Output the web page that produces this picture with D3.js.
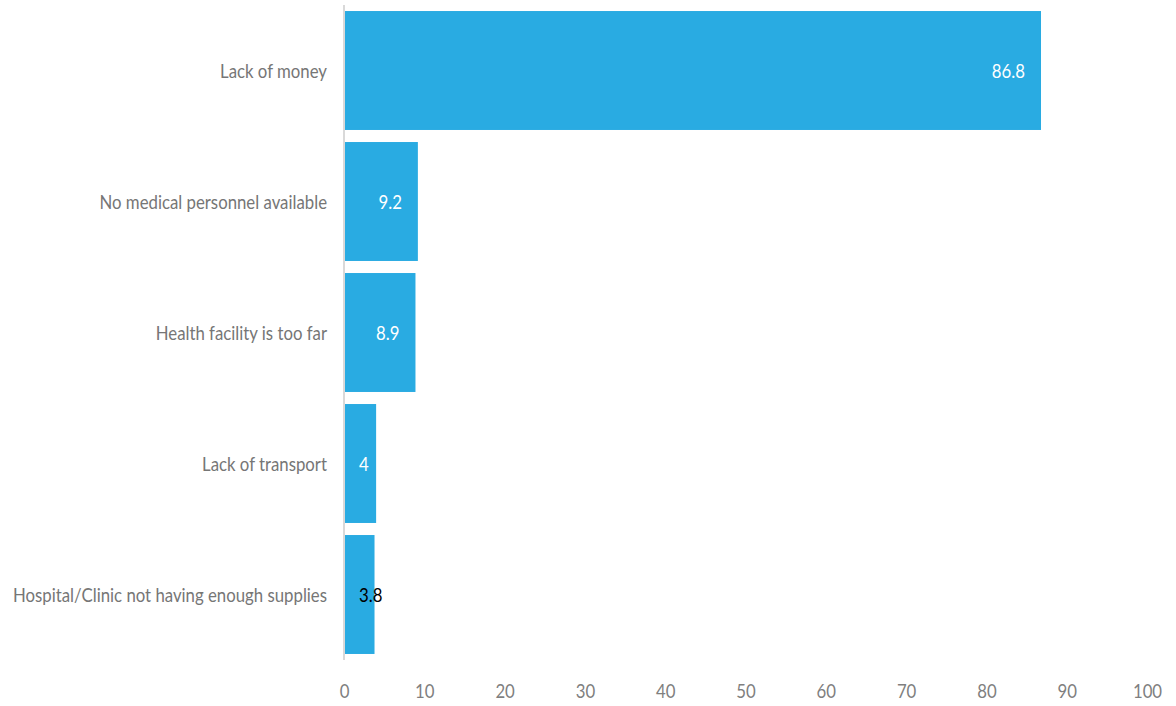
<!DOCTYPE html>
<html><head><meta charset="utf-8">
<script src="https://cdn.jsdelivr.net/npm/d3@7"></script>
<style>body{margin:0;background:#fff}svg{display:block}text{font-family:Lato,"Open Sans",sans-serif}</style>
</head><body><svg id="c" width="1176" height="706"></svg>
<script>
const categories = ["Lack of money","No medical personnel available","Health facility is too far","Lack of transport","Hospital/Clinic not having enough supplies"];
const values = [86.8, 9.2, 8.9, 4, 3.8];
const xTicks = [0,10,20,30,40,50,60,70,80,90,100];

const svg = d3.select("#c");
const x = d3.scaleLinear().domain([0,100]).range([344,1147]);
const y = d3.scaleBand().domain(categories).range([5,660]).paddingInner(0.092).paddingOuter(0.046);
const FS = 20;

svg.selectAll("rect.bar").data(categories).join("rect")
  .attr("x", x(0)+1).attr("y", d=>y(d)).attr("height", y.bandwidth())
  .attr("width", (d,i)=>x(values[i])-x(0)-1).attr("fill","#29ABE2");

svg.append("line").attr("x1",x(0)).attr("x2",x(0)).attr("y1",5).attr("y2",660)
  .attr("stroke","#d9d9d9").attr("stroke-width",2);

// category labels
const cats = svg.selectAll("text.cat").data(categories).join("text")
  .attr("class","cat")
  .attr("x",327).attr("y",d=>y(d)+y.bandwidth()/2).attr("dy","0.36em")
  .attr("text-anchor","end").attr("font-size",FS).attr("fill","#767676").text(d=>d);
// condensed look: scale to reference width of longest label (314px)
const longest = cats.filter((d,i)=>i===4).node().getComputedTextLength();
const sx = 314/longest;
function condense(sel){ sel.each(function(){ const w=this.getComputedTextLength(); d3.select(this).attr("textLength",w*sx).attr("lengthAdjust","spacingAndGlyphs"); }); }
condense(cats);

// tick labels
const xAxis = d3.axisBottom(x).tickValues(xTicks).tickSize(0).tickPadding(0);
const g = svg.append("g").attr("transform","translate(0,684)").call(xAxis);
g.select(".domain").remove();
g.selectAll("text").attr("font-size",FS).attr("fill","#7f7f7f").attr("dy","0.71em")
  .style("font-family",'Lato,"Open Sans",sans-serif');
condense(g.selectAll("text"));

// value labels
svg.selectAll("text.val").data(categories).join("text")
  .attr("class","val").attr("font-size",FS)
  .attr("y",d=>y(d)+y.bandwidth()/2).attr("dy","0.36em")
  .text((d,i)=>values[i])
  .each(function(d,i){
    const w = this.getComputedTextLength()*sx;
    d3.select(this).attr("textLength",w).attr("lengthAdjust","spacingAndGlyphs");
    const end = x(values[i]);
    let left = end - 16 - w;
    if (left < x(0)+15) left = x(0)+15;
    d3.select(this).attr("x",left).attr("fill", left+w > end ? "#000" : "#fff");
  });
</script></body></html>
